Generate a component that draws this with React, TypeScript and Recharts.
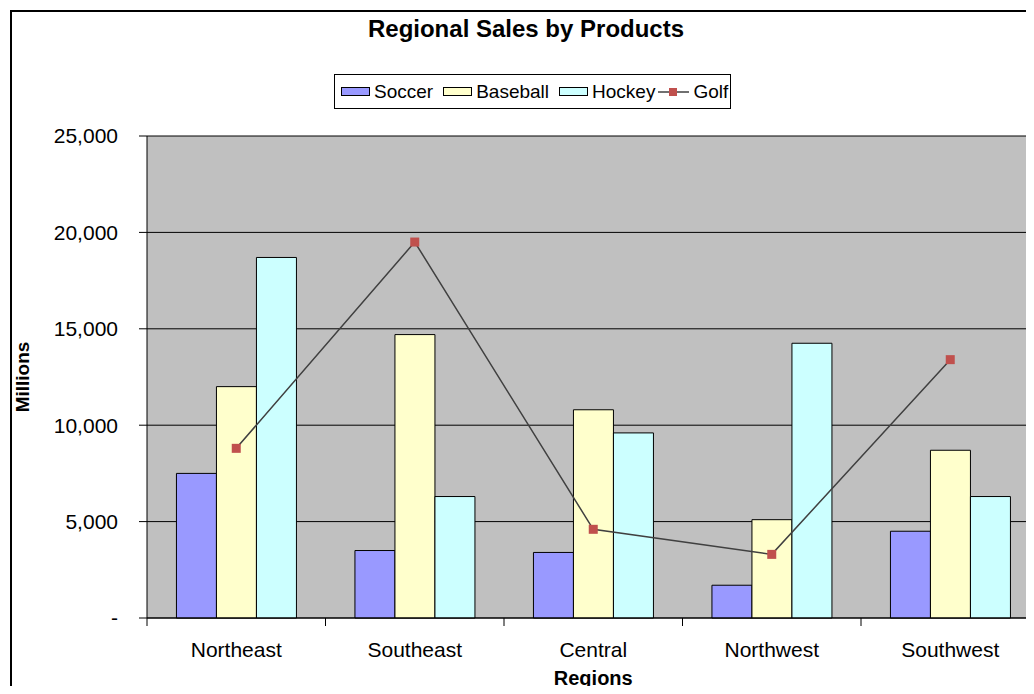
import { ComposedChart, Bar, Line, XAxis, YAxis, CartesianGrid, Legend } from 'recharts';

const regions = ['Northeast', 'Southeast', 'Central', 'Northwest', 'Southwest'];
const soccer = [7500, 3500, 3400, 1700, 4500];
const baseball = [12000, 14700, 10800, 5100, 8700];
const hockey = [18700, 6300, 9600, 14250, 6300];
const golf = [8800, 19500, 4600, 3300, 13400];
const yTicks = [0, 5000, 10000, 15000, 20000, 25000];

const data = regions.map((name, i) => ({
  name,
  Soccer: soccer[i],
  Baseball: baseball[i],
  Hockey: hockey[i],
  Golf: golf[i],
}));

const FONT = '"Liberation Sans", Arial, sans-serif';
const PLOT_W = 892.5;
const BAND = PLOT_W / regions.length;

function RegionTick(props: any) {
  const { x, y, payload } = props;
  return (
    <g>
      <line x1={x - BAND / 2} x2={x - BAND / 2} y1={y} y2={y + 8} stroke="#000" strokeWidth={1} />
      <text x={x} y={y + 39} textAnchor="middle" fontSize={21} fill="#000" fontFamily={FONT}>
        {payload.value}
      </text>
    </g>
  );
}

function SquareDot(props: any) {
  const { cx, cy } = props;
  if (cx == null || cy == null) return null;
  return <rect x={cx - 4.5} y={cy - 4.5} width={9} height={9} fill="#C0504D" />;
}

function swatch(fill: string) {
  return (
    <span
      style={{
        display: 'inline-block',
        width: 27,
        height: 7,
        background: fill,
        border: '1.5px solid #000',
        marginRight: 4,
      }}
    />
  );
}

function LegendBox() {
  const item = { display: 'inline-flex', alignItems: 'center', marginRight: 10 };
  return (
    <div
      style={{
        display: 'inline-flex',
        alignItems: 'center',
        border: '1px solid #000',
        background: '#fff',
        height: 33,
        padding: '0 2px 0 6px',
        fontFamily: FONT,
        fontSize: 19,
        color: '#000',
        whiteSpace: 'nowrap',
      }}
    >
      <span style={item}>{swatch('#9999FF')}Soccer</span>
      <span style={item}>{swatch('#FFFFCC')}Baseball</span>
      <span style={{ ...item, marginRight: 3 }}>{swatch('#CCFFFF')}Hockey</span>
      <span style={{ display: 'inline-flex', alignItems: 'center' }}>
        <svg width={31} height={12} style={{ marginRight: 4 }}>
          <line x1={0} x2={31} y1={6} y2={6} stroke="#404040" strokeWidth={1.5} />
          <rect x={11} y={2} width={8} height={8} fill="#C0504D" />
        </svg>
        Golf
      </span>
    </div>
  );
}

export default function App() {
  return (
    <div
      style={{
        margin: -8,
        width: 1034,
        height: 694,
        overflow: 'hidden',
        position: 'relative',
        background: '#fff',
        fontFamily: FONT,
      }}
    >
      <div
        style={{
          position: 'absolute',
          left: 10,
          top: 10,
          width: 1100,
          height: 800,
          border: '2px solid #000',
        }}
      />
      <div
        style={{
          position: 'absolute',
          left: 0,
          top: 16,
          width: 1052,
          textAlign: 'center',
          fontWeight: 'bold',
          fontSize: 24,
          lineHeight: '25px',
          color: '#000',
        }}
      >
        Regional Sales by Products
      </div>
      <div style={{ position: 'absolute', left: 0, top: 0, width: 1060, height: 710 }}>
        <ComposedChart
          width={1060}
          height={710}
          data={data}
          margin={{ top: 136, right: 1060 - 147 - PLOT_W, left: 0, bottom: 0 }}
          barCategoryGap="16.5%"
          barGap={0}
        >
          <CartesianGrid
            vertical={false}
            stroke="#000"
            strokeWidth={1}
            fill="#C0C0C0"
            fillOpacity={1}
          />
          <XAxis
            dataKey="name"
            height={92}
            interval={0}
            tickSize={0}
            tickMargin={0}
            axisLine={{ stroke: '#000', strokeWidth: 1 }}
            tick={<RegionTick />}
            label={{
              value: 'Regions',
              position: 'insideBottom',
              offset: 25,
              fontSize: 20,
              fontWeight: 'bold',
              fill: '#000',
            }}
          />
          <YAxis
            width={147}
            domain={[0, 25000]}
            ticks={yTicks}
            interval={0}
            tickSize={8}
            tickMargin={21}
            axisLine={{ stroke: '#000', strokeWidth: 1 }}
            tickLine={{ stroke: '#000', strokeWidth: 1 }}
            tick={{ fill: '#000', fontSize: 21 }}
            tickFormatter={(v: number) => (v === 0 ? '-' : v.toLocaleString('en-US'))}
            label={{
              value: 'Millions',
              angle: -90,
              position: 'insideLeft',
              offset: 22,
              fontSize: 19,
              fontWeight: 'bold',
              fill: '#000',
              style: { textAnchor: 'middle' },
            }}
          />
          <Legend
            layout="horizontal"
            verticalAlign="middle"
            align="center"
            wrapperStyle={{ left: 334, top: 74, width: 'auto', height: 'auto' }}
            content={<LegendBox />}
          />
          <Bar dataKey="Soccer" fill="#9999FF" stroke="#000" strokeWidth={1} isAnimationActive={false} />
          <Bar dataKey="Baseball" fill="#FFFFCC" stroke="#000" strokeWidth={1} isAnimationActive={false} />
          <Bar dataKey="Hockey" fill="#CCFFFF" stroke="#000" strokeWidth={1} isAnimationActive={false} />
          <Line
            type="linear"
            dataKey="Golf"
            stroke="#404040"
            strokeWidth={1.5}
            dot={<SquareDot />}
            activeDot={false}
            isAnimationActive={false}
          />
        </ComposedChart>
      </div>
    </div>
  );
}
